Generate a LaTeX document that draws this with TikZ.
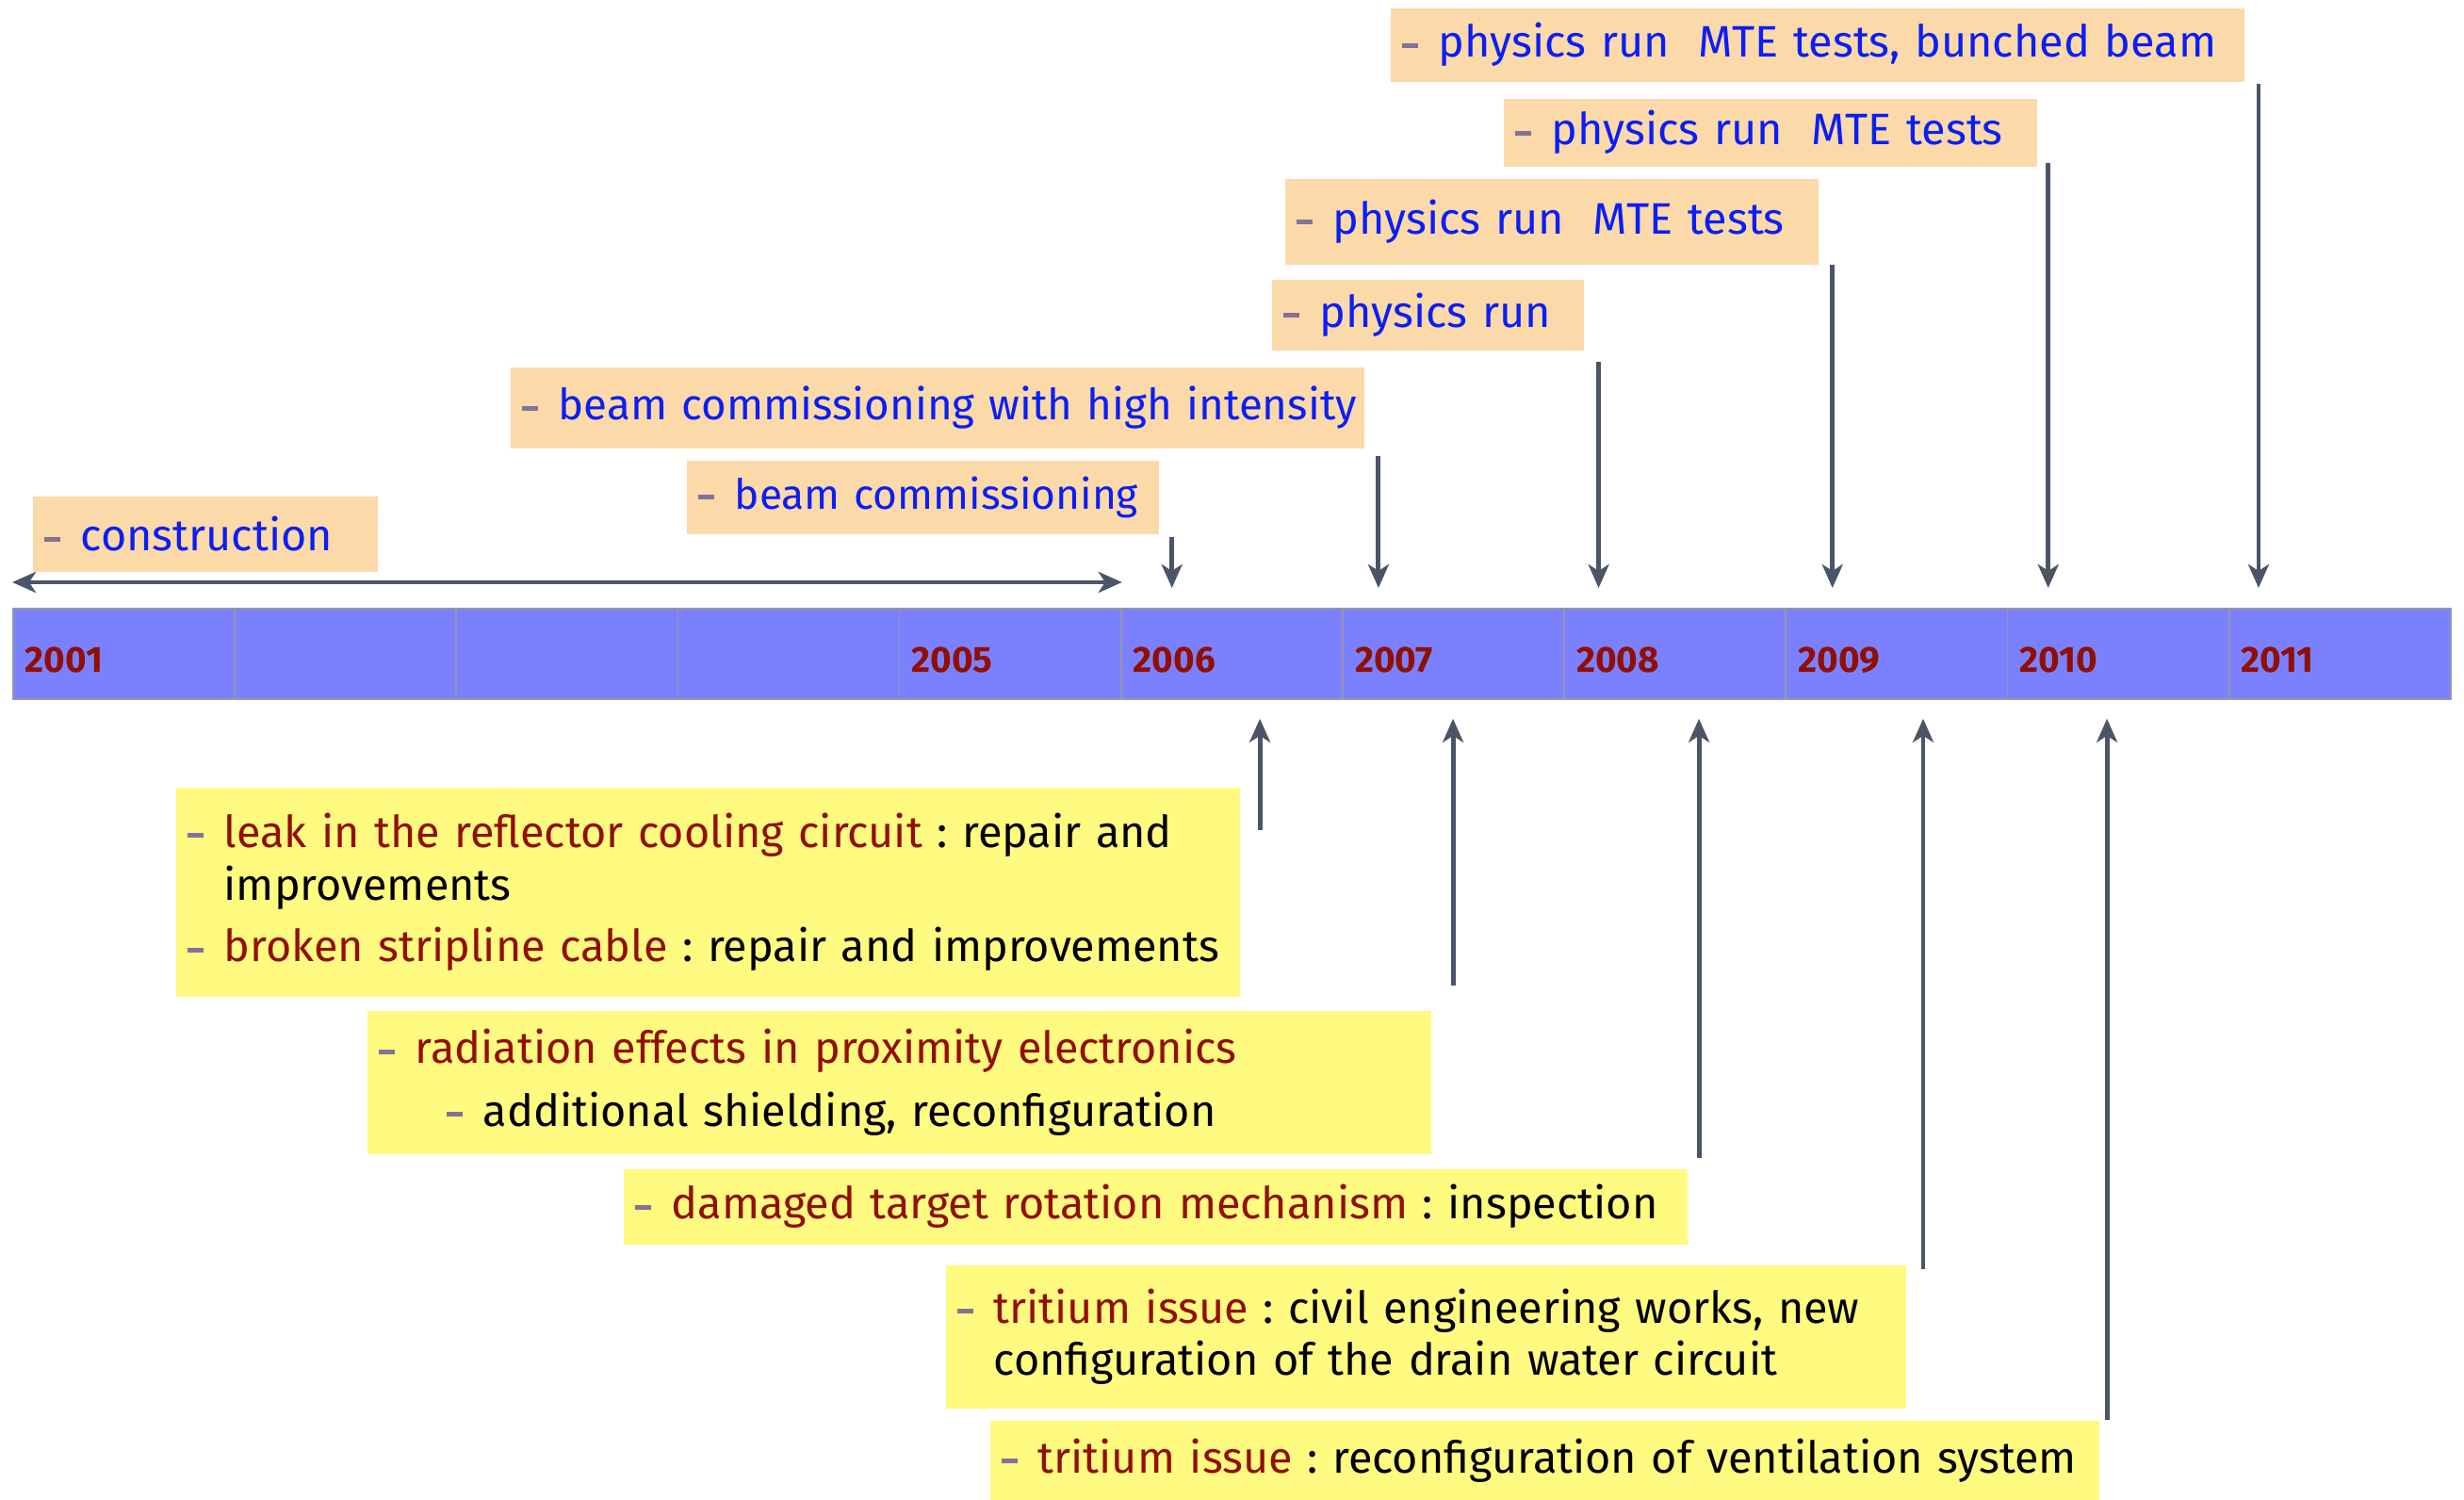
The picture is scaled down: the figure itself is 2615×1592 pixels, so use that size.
\documentclass[tikz,border=0pt]{standalone}
\usepackage{fontspec}
\setmainfont{Fira Sans}
\usetikzlibrary{arrows.meta}
\definecolor{peach}{RGB}{252,217,168}
\definecolor{noteyellow}{RGB}{255,250,128}
\definecolor{barblue}{RGB}{123,128,255}
\definecolor{barline}{RGB}{150,150,172}
\definecolor{evblue}{RGB}{10,30,245}
\definecolor{evred}{RGB}{145,15,0}
\definecolor{dashgray}{RGB}{130,115,150}
\definecolor{arrowgray}{RGB}{74,85,104}
\newcommand{\evfont}{\fontsize{13.3}{15.9}\selectfont\frenchspacing}
\newcommand{\evdash}{\makebox[0.39cm][l]{\textcolor{dashgray}{\rule[0.1cm]{0.17cm}{0.05cm}}}}
\newcommand{\evgap}{\hspace*{0.39cm}}
\newcommand{\evrun}[1]{\mbox{\evdash #1}}
\newcommand{\evitem}[2]{\mbox{\evdash\textcolor{evred}{#1}#2}}
\newcommand{\evmore}[1]{\mbox{\evgap #1}}

\begin{document}
\begin{tikzpicture}[x=0.01cm, y=-0.01cm,
  yearcell/.style={fill=barblue, draw=barline, line width=0.5pt, anchor=north west, inner xsep=0.13cm, inner ysep=0pt,
    text width=2.09cm, minimum width=2.3518cm, minimum height=0.96cm, align=left, text height=0.4cm, text depth=0pt,
    text=evred, font=\fontsize{11}{13}\selectfont\bfseries},
  runbox/.style 2 args={fill=peach, anchor=north west, inner xsep=0.12cm, inner ysep=0pt, align=left,
    text=evblue, font=\evfont, text width=#1, minimum height=#2},
  notebox/.style 2 args={fill=noteyellow, anchor=north west, inner xsep=0.12cm, inner ysep=0pt, align=left,
    text=black, font=\evfont, text width=#1, minimum height=#2},
  evline/.style={draw=arrowgray, line width=1.4pt},
  evarrow/.style={evline, -{Stealth[length=0.25cm,width=0.22cm,inset=0.07cm]}, shorten >=0.21cm}]
\useasboundingbox (0,0) rectangle (2615,1592);

\foreach \yr/\lbl [count=\i from 0] in {2001/2001,2002/,2003/,2004/,2005/2005,2006/2006,2007/2007,2008/2008,2009/2009,2010/2010,2011/2011}
  \node[yearcell] (c\yr) at ({13+235.18*\i},645) {\lbl};

\node[runbox={3.42cm}{0.80cm}] (build) at (34,526) {\evrun{construction}};
\node[runbox={4.77cm}{0.78cm}, font=\fontsize{12.6}{15.9}\selectfont] (comm) at (728,488) {\evrun{beam commissioning}};
\node[runbox={8.82cm}{0.86cm}, font=\fontsize{13}{15.9}\selectfont] (commhi) at (541,389) {\evrun{beam commissioning with high intensity}};
\node[runbox={3.07cm}{0.75cm}] (run08) at (1349,296) {\evrun{physics run}};
\node[runbox={5.42cm}{0.91cm}] (run09) at (1363,189) {\evrun{physics run~~MTE tests}};
\node[runbox={5.42cm}{0.72cm}] (run10) at (1595,104) {\evrun{physics run~~MTE tests}};
\node[runbox={8.82cm}{0.78cm}] (run11) at (1475,8) {\evrun{physics run~~MTE tests, bunched beam}};

\node[notebox={11.05cm}{2.22cm}] (leak) at (186,835) {\evitem{leak in the reflector cooling circuit}{ : repair and}\par
  \evmore{improvements}\par\vspace{0.1cm}
  \evitem{broken stripline cable}{ : repair and improvements}};
\node[notebox={11.05cm}{1.52cm}] (rad) at (389,1072) {\evitem{radiation effects in proximity electronics}{}\par\vspace{0.11cm}
  \hspace*{0.72cm}\evrun{additional shielding, reconfiguration}};
\node[notebox={11.05cm}{0.80cm}] (target) at (661,1240) {\evitem{damaged target rotation mechanism}{ : inspection}};
\node[notebox={9.95cm}{1.52cm}] (drain) at (1003,1342) {\evitem{tritium issue}{ : civil engineering works, new}\par
  \evmore{configuration of the drain water circuit}};
\node[notebox={11.53cm}{0.85cm}] (vent) at (1050,1507) {\evitem{tritium issue}{ : reconfiguration of ventilation system}};

\draw[evline, {Stealth[length=0.25cm,width=0.22cm,inset=0.07cm]}-{Stealth[length=0.25cm,width=0.22cm,inset=0.07cm]}]
  ([yshift=0.27cm]c2001.north west) -- ([yshift=0.27cm]c2005.north east);

\draw[evarrow] ([xshift=0.13cm,yshift=-0.03cm]comm.south east) -- ([xshift=0.13cm]comm.south east |- c2006.north);
\draw[evarrow] ([xshift=0.14cm,yshift=-0.08cm]commhi.south east) -- ([xshift=0.14cm]commhi.south east |- c2007.north);
\draw[evarrow] ([xshift=0.15cm,yshift=-0.12cm]run08.south east) -- ([xshift=0.15cm]run08.south east |- c2008.north);
\draw[evarrow] ([xshift=0.14cm]run09.south east) -- ([xshift=0.14cm]run09.south east |- c2009.north);
\draw[evarrow] ([xshift=0.11cm,yshift=0.04cm]run10.south east) -- ([xshift=0.11cm]run10.south east |- c2010.north);
\draw[evarrow] ([xshift=0.14cm,yshift=-0.02cm]run11.south east) -- ([xshift=0.14cm]run11.south east |- c2011.north);

\draw[evarrow, shorten >=0.2cm] ([xshift=0.2cm,yshift=-0.46cm]leak.north east) -- ([xshift=0.2cm]leak.north east |- c2006.south);
\draw[evarrow, shorten >=0.2cm] ([xshift=0.22cm,yshift=0.26cm]rad.north east) -- ([xshift=0.22cm]rad.north east |- c2007.south);
\draw[evarrow, shorten >=0.2cm] ([xshift=0.11cm,yshift=0.11cm]target.north east) -- ([xshift=0.11cm]target.north east |- c2008.south);
\draw[evarrow, shorten >=0.2cm] ([xshift=0.17cm,yshift=-0.05cm]drain.north east) -- ([xshift=0.17cm]drain.north east |- c2009.south);
\draw[evarrow, shorten >=0.2cm] ([xshift=0.07cm]vent.north east) -- ([xshift=0.07cm]vent.north east |- c2010.south);
\end{tikzpicture}
\end{document}
